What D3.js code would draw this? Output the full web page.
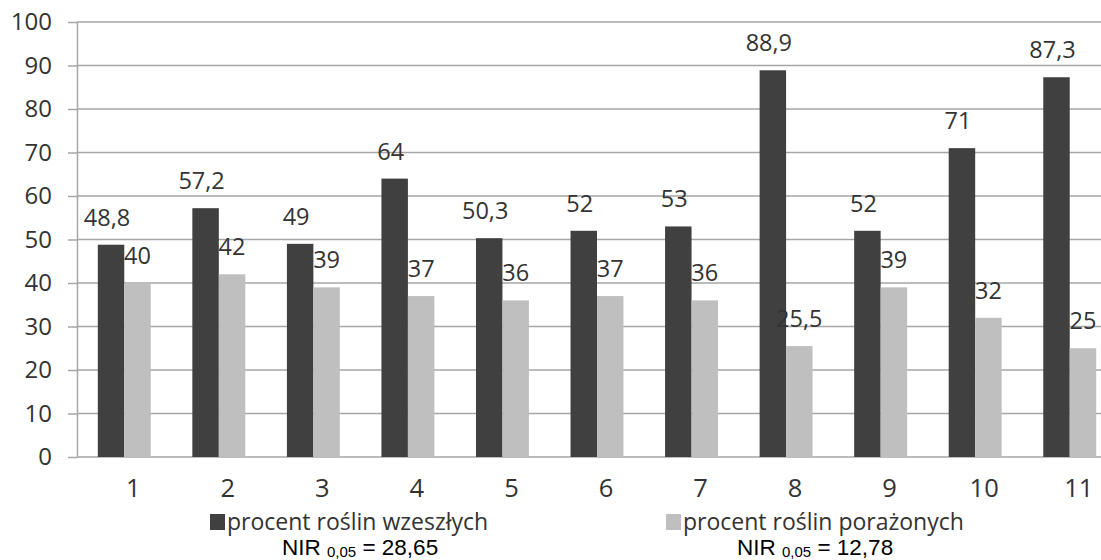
<!DOCTYPE html>
<html><head><meta charset="utf-8">
<script src="https://cdn.jsdelivr.net/npm/d3@7"></script>
<style>body{margin:0;background:#fff}svg{display:block}</style>
</head><body>
<script>
const categories = ["1","2","3","4","5","6","7","8","9","10","11"];
const emerged = [48.8,57.2,49,64,50.3,52,53,88.9,52,71,87.3];
const infected = [40,42,39,37,36,37,36,25.5,39,32,25];
const emergedLabels = ["48,8","57,2","49","64","50,3","52","53","88,9","52","71","87,3"];
const infectedLabels = ["40","42","39","37","36","37","36","25,5","39","32","25"];
const seriesNames = ["procent roślin wzeszłych","procent roślin porażonych"];
const nirValues = ["28,65","12,78"];
const yTicks = [0,10,20,30,40,50,60,70,80,90,100];

const W=1101,H=560;
const svg=d3.select("body").append("svg").attr("width",W).attr("height",H);
const font="'Open Sans', Lato, sans-serif";
const x=d3.scaleBand().domain(categories).range([77,1117]).paddingInner(0.44).paddingOuter(0.22);
const xs=d3.scaleBand().domain([0,1]).range([0,x.bandwidth()]);
const y=d3.scaleLinear().domain([0,100]).range([457,22]);

// gridlines + y axis
const yAxis=d3.axisLeft(y).tickValues(yTicks).tickSize(9).tickSizeOuter(0).tickPadding(16);
const gy=svg.append("g").attr("transform","translate(77,0)").call(yAxis);
gy.select(".domain").attr("stroke","#a6a6a6").attr("stroke-width",1.5);
gy.selectAll(".tick line").attr("stroke","#a6a6a6").attr("stroke-width",1.5);
gy.selectAll(".tick text").attr("font-family",font).attr("font-size",24).attr("fill","#333");
svg.append("g").selectAll("line").data(yTicks).join("line")
  .attr("x1",77).attr("x2",W).attr("y1",d=>y(d)).attr("y2",d=>y(d))
  .attr("stroke","#a6a6a6").attr("stroke-width",1.5);

const colors=["#404040","#bfbfbf"];
const series=[emerged,infected];
const labels=[emergedLabels,infectedLabels];
series.forEach((vals,si)=>{
  svg.append("g").selectAll("rect").data(vals).join("rect")
    .attr("x",(d,i)=>x(categories[i])+xs(si))
    .attr("width",xs.bandwidth())
    .attr("y",d=>y(d)).attr("height",d=>y(0)-y(d))
    .attr("fill",colors[si]);
  svg.append("g").selectAll("text").data(vals).join("text")
    .attr("x",(d,i)=>x(categories[i])+xs(si)+xs.bandwidth()/2 - (si===0?4:0))
    .attr("y",d=>y(d)-19)
    .attr("text-anchor","middle").attr("font-family",font).attr("font-size",23.5).attr("fill","#333")
    .text((d,i)=>labels[si][i]);
});

// category labels
svg.append("g").selectAll("text").data(categories).join("text")
  .attr("x",d=>x(d)+x.bandwidth()/2+9).attr("y",497)
  .attr("text-anchor","middle").attr("font-family",font).attr("font-size",25.5).attr("fill","#333")
  .text(d=>d);

// legend
const legX=[210,666];
seriesNames.forEach((n,i)=>{
  svg.append("rect").attr("x",legX[i]).attr("y",514).attr("width",15).attr("height",16).attr("fill",colors[i]);
  svg.append("text").attr("x",legX[i]+17).attr("y",530).attr("font-family",font).attr("font-size",23).attr("fill","#333").text(n);
});
// NIR
const nirX=[282,737];
nirValues.forEach((v,i)=>{
  const t=svg.append("text").attr("x",nirX[i]).attr("y",555).attr("font-family","'Liberation Sans', Arial, sans-serif").attr("font-size",22.5).attr("fill","#000");
  t.append("tspan").text("NIR ");
  t.append("tspan").attr("font-size",15).attr("dy",2).text("0,05");
  t.append("tspan").attr("dy",-2).text(" = "+v);
});
</script>
</body></html>
